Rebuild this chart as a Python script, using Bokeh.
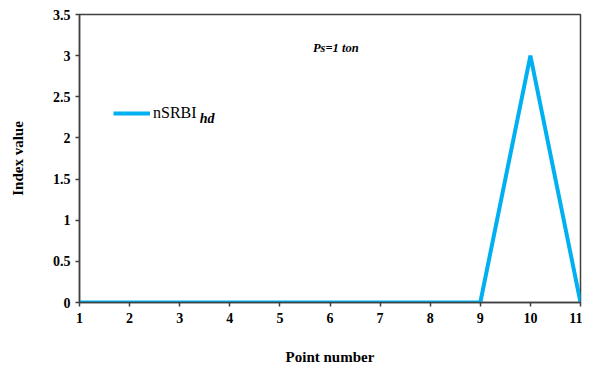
from bokeh.plotting import figure
from bokeh.models import Range1d, FixedTicker, Label, Legend, LegendItem
from bokeh.embed import file_html
from bokeh.resources import INLINE

points = [1, 2, 3, 4, 5, 6, 7, 8, 9, 10, 11]
nsrbi_hd = [0, 0, 0, 0, 0, 0, 0, 0, 0, 3, 0]
y_ticks = [0, 0.5, 1, 1.5, 2, 2.5, 3, 3.5]
y_tick_labels = ["0", "0.5", "1", "1.5", "2", "2.5", "3", "3.5"]
x_tick_labels = [str(v) for v in points]

FONT = "Liberation Serif"

p = figure(output_backend="svg", toolbar_location=None,
           x_range=Range1d(1, 11), y_range=Range1d(0, 3.5))
p.min_border_left = 79
p.min_border_right = 2
p.min_border_top = 14
p.min_border_bottom = 58
p.frame_width = 501
p.frame_height = 288

r = p.line(points, nsrbi_hd, line_color="#00B0F0", line_width=4)

p.xgrid.visible = False
p.ygrid.visible = False
p.outline_line_color = "#404040"
p.outline_line_width = 1.5

for ax in (p.xaxis[0], p.yaxis[0]):
    ax.axis_line_color = "#404040"
    ax.axis_line_width = 1.5
    ax.major_tick_line_color = "#404040"
    ax.major_tick_line_width = 1.5
    ax.minor_tick_line_color = None
    ax.major_tick_in = 0
    ax.major_tick_out = 4
    ax.major_label_text_font = FONT
    ax.major_label_text_font_style = "bold"
    ax.major_label_text_font_size = "14px"
    ax.major_label_text_color = "#000000"
    ax.axis_label_text_font = FONT
    ax.axis_label_text_font_style = "bold"
    ax.axis_label_text_font_size = "15px"
    ax.axis_label_text_color = "#000000"

p.xaxis.ticker = FixedTicker(ticks=points)
p.xaxis.major_label_overrides = {v: s for v, s in zip(points, x_tick_labels)}
p.xaxis.axis_label = "Point number"
p.xaxis.major_label_standoff = 6
p.xaxis.axis_label_standoff = 23

p.yaxis.ticker = FixedTicker(ticks=y_ticks)
p.yaxis.major_label_overrides = {v: s for v, s in zip(y_ticks, y_tick_labels)}
p.yaxis.axis_label = "Index value"
p.yaxis.major_label_standoff = 5
p.yaxis.axis_label_standoff = 24

legend = Legend(items=[LegendItem(label="nSRBI", renderers=[r])],
                location=(34, 179), background_fill_alpha=0, border_line_color=None,
                margin=0, padding=0, glyph_width=37, glyph_height=20, label_height=20,
                label_standoff=3, label_text_font=FONT, label_text_font_size="16px",
                label_text_color="#000000")
p.add_layout(legend)

p.add_layout(Label(x=3.40, y=2.24, text="hd", text_font=FONT, text_font_style="bold italic",
                   text_font_size="14px", text_baseline="middle", text_color="#000000"))

p.add_layout(Label(x=5.66, y=3.09, text="Ps=1 ton", text_font=FONT,
                   text_font_style="bold italic", text_font_size="12.5px",
                   text_baseline="middle", text_color="#000000"))

open("out.html", "w").write(file_html(p, INLINE))
